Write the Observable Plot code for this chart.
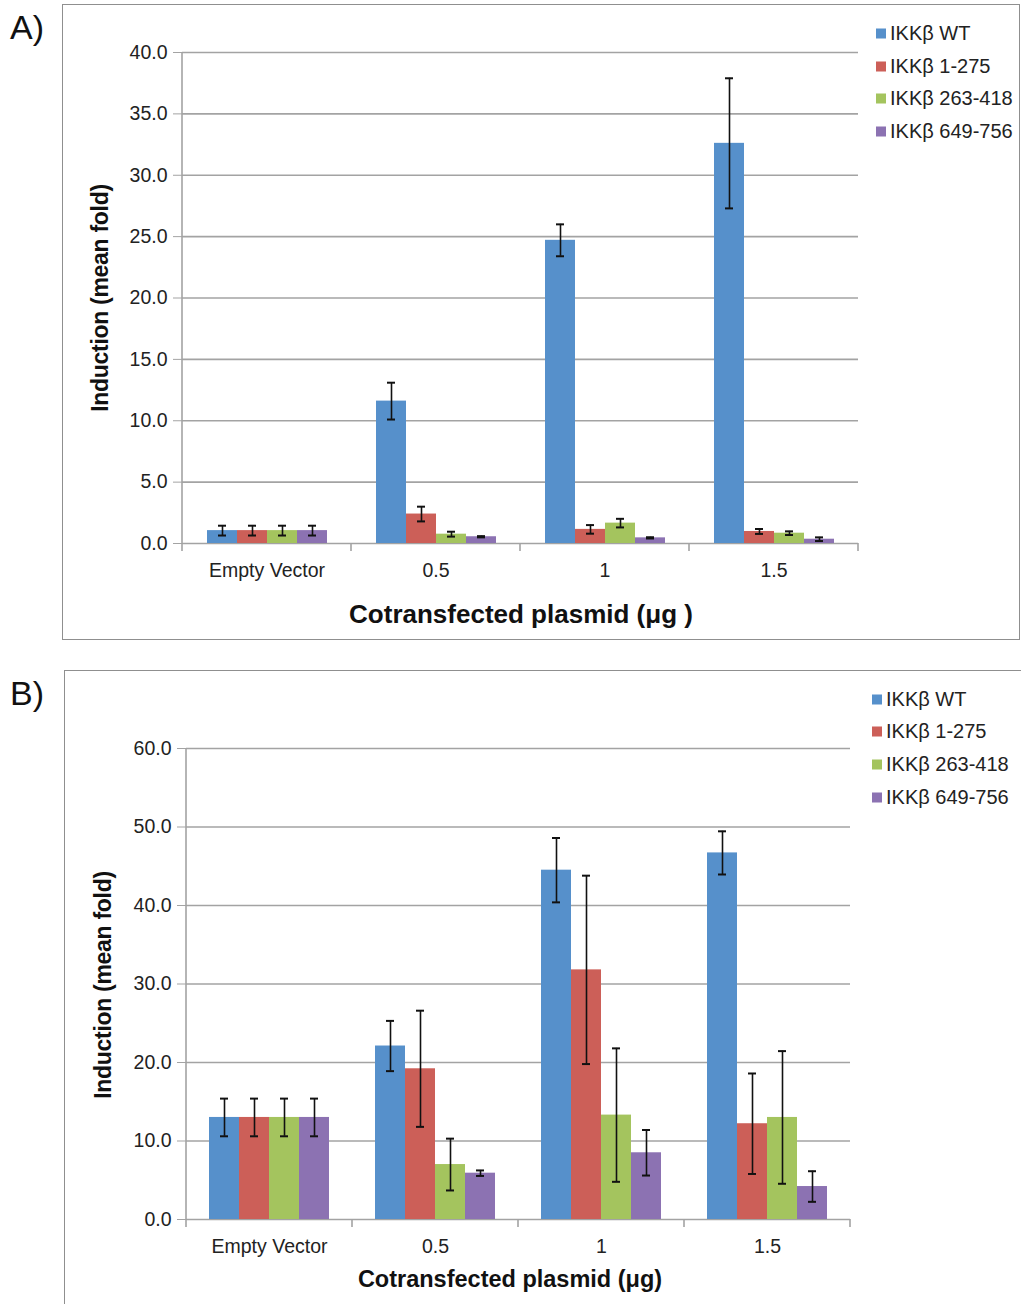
<!DOCTYPE html>
<html>
<head>
<meta charset="utf-8">
<script src="https://cdn.jsdelivr.net/npm/d3@7"></script>
<script src="https://cdn.jsdelivr.net/npm/@observablehq/plot@0.6"></script>
<style>
  body { margin: 0; background: #fff; }
  #root { position: relative; width: 1021px; height: 1304px; overflow: hidden; font-family: "Liberation Sans", Arial, sans-serif; color: #222; }
  .abs { position: absolute; }
  .frame { position: absolute; border: 1.5px solid #8f8f8f; box-sizing: border-box; }
  .panel-label { position: absolute; font-size: 34px; color: #111; }
  .ytitle { position: absolute; font-size: 23px; font-weight: bold; transform: translate(-50%, -50%) rotate(-90deg); white-space: nowrap; color: #111; letter-spacing: -0.3px; }
  .xtitle { position: absolute; font-weight: bold; transform: translate(-50%, -50%); white-space: nowrap; color: #111; }
  .legend-item { position: absolute; font-size: 20px; white-space: nowrap; transform: translateY(-50%); display: flex; align-items: center; color: #222; }
  .legend-item .sw { width: 10px; height: 10px; margin-right: 4px; display: inline-block; }
</style>
</head>
<body>
<div id="root"></div>
<script>
// ---------- data ----------
const categories = ["Empty Vector", "0.5", "1", "1.5"];
const seriesNames = ["IKKβ WT", "IKKβ 1-275", "IKKβ 263-418", "IKKβ 649-756"];
const colors = ["#5690CB", "#CC5F58", "#A4C45E", "#8C72B2"];

// Panel A: mean fold and error (±)
const aWT      = [1.05, 11.6, 24.7, 32.6];
const aWTErr   = [0.4, 1.5, 1.3, 5.3];
const a1_275   = [1.05, 2.4, 1.15, 0.98];
const a1_275Err= [0.4, 0.6, 0.35, 0.2];
const a263_418 = [1.05, 0.76, 1.66, 0.84];
const a263_418Err = [0.4, 0.2, 0.35, 0.15];
const a649_756 = [1.05, 0.55, 0.46, 0.35];
const a649_756Err = [0.4, 0.05, 0.05, 0.15];
const aTicks = [0, 5, 10, 15, 20, 25, 30, 35, 40];

// Panel B
const bWT      = [13.0, 22.1, 44.5, 46.7];
const bWTErr   = [2.4, 3.2, 4.1, 2.75];
const b1_275   = [13.0, 19.2, 31.8, 12.2];
const b1_275Err= [2.4, 7.4, 12.0, 6.4];
const b263_418 = [13.0, 7.0, 13.3, 13.0];
const b263_418Err = [2.4, 3.3, 8.5, 8.45];
const b649_756 = [13.0, 5.9, 8.5, 4.2];
const b649_756Err = [2.4, 0.35, 2.9, 1.95];
const bTicks = [0, 10, 20, 30, 40, 50, 60];

function toRows(means, errs) {
  const rows = [];
  means.forEach((m, si) => m.forEach((v, ci) => rows.push({
    cat: categories[ci], series: seriesNames[si], mean: v,
    lo: v - errs[si][ci], hi: v + errs[si][ci]
  })));
  return rows;
}
const dataA = toRows([aWT, a1_275, a263_418, a649_756], [aWTErr, a1_275Err, a263_418Err, a649_756Err]);
const dataB = toRows([bWT, b1_275, b263_418, b649_756], [bWTErr, b1_275Err, b263_418Err, b649_756Err]);

const root = document.getElementById("root");

function makePanel({data, ticks, top, height, mt, mb, ml, mr, po, catPad}) {
  const yMax = ticks[ticks.length - 1];
  const plot = Plot.plot({
    width: 1021, height,
    marginTop: mt, marginBottom: mb, marginLeft: ml, marginRight: mr,
    style: {fontFamily: "'Liberation Sans', Arial, sans-serif", fontSize: "19.5px", color: "#222", background: "transparent", overflow: "visible"},
    fx: {domain: categories, padding: 0, label: null},
    x: {domain: seriesNames, paddingInner: 0, paddingOuter: po, axis: null},
    y: {domain: [0, yMax], label: null},
    color: {domain: seriesNames, range: colors},
    marks: [
      Plot.gridY(ticks, {stroke: "#a3a3a3", strokeOpacity: 1, strokeWidth: 1.6}),
      Plot.barY(data, {fx: "cat", x: "series", y: "mean", fill: "series"}),
      Plot.ruleX(data, {fx: "cat", x: "series", y1: "lo", y2: "hi", stroke: "#111", strokeWidth: 1.6}),
      Plot.tickY(data, {fx: "cat", x: "series", y: "hi", stroke: "#111", strokeWidth: 2, insetLeft: 11, insetRight: 11}),
      Plot.tickY(data, {fx: "cat", x: "series", y: "lo", stroke: "#111", strokeWidth: 2, insetLeft: 11, insetRight: 11}),
      Plot.axisY(ticks, {tickFormat: d => d.toFixed(1), tickSize: 9, tickPadding: 6, stroke: "#a3a3a3", fill: "#222", label: null}),
      Plot.axisFx({anchor: "bottom", tickSize: 0, tickPadding: catPad, fill: "#222", label: null})
    ]
  });
  // axis decorations using the plot's own scales
  const fxS = plot.scale("fx"), yS = plot.scale("y");
  const svg = d3.select(plot.tagName.toLowerCase() === "svg" ? plot : plot.querySelector("svg"));
  const g = svg.append("g").attr("stroke", "#a3a3a3").attr("stroke-width", 1.6);
  const x0 = fxS.apply(categories[0]);
  g.append("line").attr("x1", x0).attr("x2", x0).attr("y1", yS.apply(0)).attr("y2", yS.apply(yMax));
  const bounds = categories.map(c => fxS.apply(c)).concat([fxS.apply(categories[categories.length - 1]) + fxS.bandwidth]);
  bounds.forEach(bx => g.append("line").attr("x1", bx).attr("x2", bx).attr("y1", yS.apply(0)).attr("y2", yS.apply(0) + 8));
  const holder = document.createElement("div");
  holder.className = "abs";
  holder.style.left = "0px"; holder.style.top = top + "px";
  holder.appendChild(plot);
  root.appendChild(holder);
}

// frames
function addFrame(l, t, w, h) {
  const d = document.createElement("div");
  d.className = "frame";
  Object.assign(d.style, {left: l + "px", top: t + "px", width: w + "px", height: h + "px"});
  root.appendChild(d);
}
addFrame(62, 4, 958, 636);
addFrame(64, 670, 980, 660);

function addText(cls, text, l, t, extra = {}) {
  const d = document.createElement("div");
  d.className = cls; d.textContent = text;
  Object.assign(d.style, {left: l + "px", top: t + "px"}, extra);
  root.appendChild(d);
  return d;
}

// Panel A
makePanel({data: dataA, ticks: aTicks, top: 0, height: 645, mt: 52, mb: 102, ml: 181, mr: 162, po: 0.78, catPad: 20});
addText("panel-label", "A)", 10, 8);
addText("ytitle", "Induction (mean fold)", 100, 298);
addText("xtitle", "Cotransfected plasmid (μg )", 521, 614, {fontSize: "26px"});

// Panel B
makePanel({data: dataB, ticks: bTicks, top: 665, height: 639, mt: 83, mb: 85, ml: 185, mr: 171, po: 0.757, catPad: 20});
addText("panel-label", "B)", 10, 674);
addText("ytitle", "Induction (mean fold)", 103, 985);
addText("xtitle", "Cotransfected plasmid (μg)", 510, 1279, {fontSize: "23.5px"});

function addLegend(x, ys) {
  seriesNames.forEach((s, i) => {
    const d = document.createElement("div");
    d.className = "legend-item";
    Object.assign(d.style, {left: x + "px", top: ys[i] + "px"});
    const sw = document.createElement("span");
    sw.className = "sw"; sw.style.background = colors[i];
    d.appendChild(sw);
    d.appendChild(document.createTextNode(s));
    root.appendChild(d);
  });
}
addLegend(876, [33, 66, 98, 131]);
addLegend(872, [699, 731, 764, 797]);
</script>
</body>
</html>
